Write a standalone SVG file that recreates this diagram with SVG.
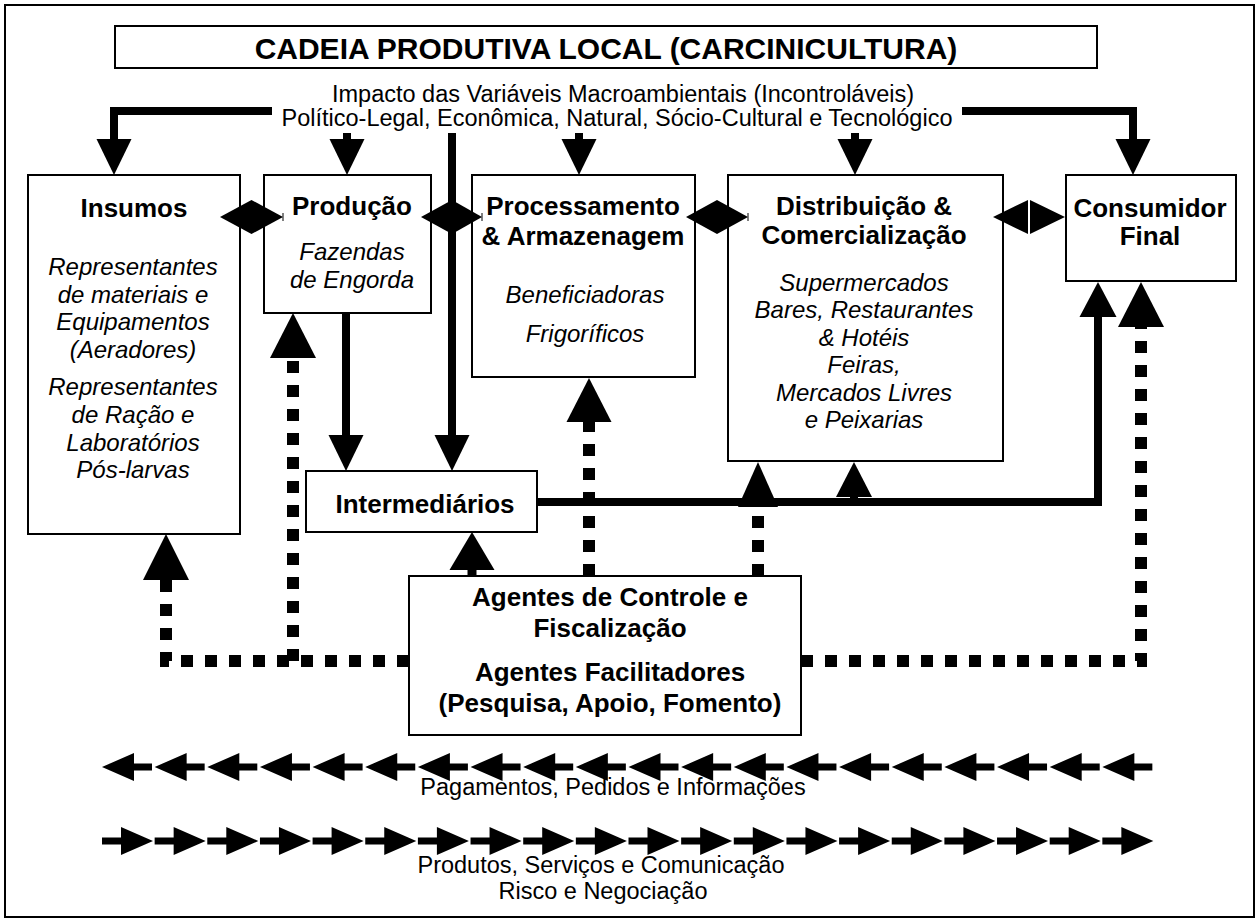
<svg xmlns="http://www.w3.org/2000/svg" width="1260" height="923" viewBox="0 0 1260 923">
<style>
.box{fill:#fff;stroke:#000;stroke-width:2}
.b{font-family:"Liberation Sans",Arial,sans-serif;font-weight:bold;font-size:26px;text-anchor:middle;fill:#000}
.i{font-family:"Liberation Sans",Arial,sans-serif;font-style:italic;font-size:24px;text-anchor:middle;fill:#000}
.r{font-family:"Liberation Sans",Arial,sans-serif;font-size:23.5px;text-anchor:middle;fill:#000}
.t{font-family:"Liberation Sans",Arial,sans-serif;font-weight:bold;font-size:30px;text-anchor:middle;fill:#000}
.thick{fill:none;stroke:#000;stroke-width:8}
.dot{fill:none;stroke:#000;stroke-width:12;stroke-dasharray:12 12}
.ah{fill:#000}
.tick{stroke:#000;stroke-width:1}
</style>
<defs>
<path id="la" d="M0 0 L32 -14 V-3.5 H50 V3.5 H32 V14 Z"/>
<path id="ra" d="M0 -3.5 H19 V-14 L51 0 L19 14 V3.5 H0 Z"/>
</defs>
<rect x="5" y="5" width="1249" height="912" fill="#fff" stroke="#000" stroke-width="2"/>

<g id="title">
<rect class="box" x="115" y="26" width="982" height="42"/>
<text class="t" x="606" y="59">CADEIA PRODUTIVA LOCAL (CARCINICULTURA)</text>
</g>
<g id="macro">
<text class="r" x="623" y="102">Impacto das Variáveis Macroambientais (Incontroláveis)</text>
<text class="r" x="617" y="126">Político-Legal, Econômica, Natural, Sócio-Cultural e Tecnológico</text>
</g>

<g id="insumos">
<rect class="box" x="28" y="175" width="212" height="359"/>
<text class="b" x="134" y="217">Insumos</text>
<text class="i" x="133" y="275">Representantes</text>
<text class="i" x="133" y="303">de materiais e</text>
<text class="i" x="133" y="330">Equipamentos</text>
<text class="i" x="133" y="358">(Aeradores)</text>
<text class="i" x="133" y="395">Representantes</text>
<text class="i" x="133" y="423">de Ração e</text>
<text class="i" x="133" y="451">Laboratórios</text>
<text class="i" x="133" y="478">Pós-larvas</text>
</g>

<g id="producao">
<rect class="box" x="264" y="175" width="167" height="138"/>
<text class="b" x="352" y="215">Produção</text>
<text class="i" x="352" y="260">Fazendas</text>
<text class="i" x="352" y="288">de Engorda</text>
</g>

<g id="processamento">
<rect class="box" x="472" y="175" width="223" height="202"/>
<text class="b" x="583" y="215">Processamento</text>
<text class="b" x="583" y="245">&amp; Armazenagem</text>
<text class="i" x="585" y="303">Beneficiadoras</text>
<text class="i" x="585" y="342">Frigoríficos</text>
</g>

<g id="distribuicao">
<rect class="box" x="728" y="175" width="275" height="286"/>
<text class="b" x="864" y="215">Distribuição &amp;</text>
<text class="b" x="864" y="244">Comercialização</text>
<text class="i" x="864" y="291">Supermercados</text>
<text class="i" x="864" y="318">Bares, Restaurantes</text>
<text class="i" x="864" y="346">&amp; Hotéis</text>
<text class="i" x="864" y="373">Feiras,</text>
<text class="i" x="864" y="401">Mercados Livres</text>
<text class="i" x="864" y="428">e Peixarias</text>
</g>

<g id="consumidor">
<rect class="box" x="1066" y="175" width="170" height="106"/>
<text class="b" x="1150" y="217">Consumidor</text>
<text class="b" x="1150" y="245">Final</text>
</g>

<g id="intermediarios">
<rect class="box" x="306" y="471" width="231" height="61"/>
<text class="b" x="425" y="513">Intermediários</text>
</g>

<g id="agentes">
<rect class="box" x="409" y="576" width="392" height="159"/>
<text class="b" x="610" y="606">Agentes de Controle e</text>
<text class="b" x="610" y="637">Fiscalização</text>
<text class="b" x="610" y="681">Agentes Facilitadores</text>
<text class="b" x="610" y="712">(Pesquisa, Apoio, Fomento)</text>
</g>

<g id="connectors">
<!-- top macro-environment arrows -->
<path class="thick" d="M272 111 H114 V140"/>
<polygon class="ah" points="96.5,139 131.5,139 114,175"/>
<path class="thick" d="M347 133 V140"/>
<polygon class="ah" points="329.5,139 364.5,139 347,175"/>
<path class="thick" d="M452 133 V436"/>
<polygon class="ah" points="434.5,435 469.5,435 452,471"/>
<path class="thick" d="M579 133 V140"/>
<polygon class="ah" points="561.5,139 596.5,139 579,175"/>
<path class="thick" d="M855 133 V140"/>
<polygon class="ah" points="837.5,139 872.5,139 855,175"/>
<path class="thick" d="M962 111 H1133 V140"/>
<polygon class="ah" points="1115.5,139 1150.5,139 1133,175"/>

<!-- double arrows between stages -->
<polygon class="ah" points="220,217 251.5,200 283,217 251.5,234"/>
<line class="tick" x1="283" y1="213" x2="283" y2="221"/>
<polygon class="ah" points="421,217 452,200 482,217 452,234"/>
<line class="tick" x1="482" y1="213" x2="482" y2="221"/>
<polygon class="ah" points="686,217 717,200 748,217 717,234"/>
<line class="tick" x1="748" y1="213" x2="748" y2="221"/>
<polygon class="ah" points="993,217 1028,200 1028,234"/>
<polygon class="ah" points="1030,200 1065,217 1030,234"/>

<!-- production to intermediaries -->
<path class="thick" d="M346 313 V436"/>
<polygon class="ah" points="328.5,435 363.5,435 346,471"/>

<!-- intermediaries flow -->
<path class="thick" d="M537 502 H1098 V316"/>
<polygon class="ah" points="1079.5,317 1116.5,317 1098,282"/>
<path class="thick" d="M854 502 V496"/>
<polygon class="ah" points="836,497 872,497 854,462"/>

<!-- agentes solid arrow to intermediarios -->
<path d="M472 577 V568" stroke="#000" stroke-width="9"/>
<polygon class="ah" points="449.5,570 494.5,570 472,532"/>

<!-- dotted support lines -->
<path class="dot" d="M166 580 V661 H409"/>
<path class="dot" d="M801 661 H1141 V327"/>
<path class="dot" d="M293 661 V358"/>
<path class="dot" d="M589 576 V422"/>
<path class="dot" d="M758 576 V507"/>
<polygon class="ah" points="143,580 189,580 166,534"/>
<polygon class="ah" points="270,358 316,358 293,313"/>
<polygon class="ah" points="566.5,422 611.5,422 589,378"/>
<polygon class="ah" points="738,507 778,507 758,462"/>
<polygon class="ah" points="1118,327 1164,327 1141,282"/>
</g>

<g id="legend">
<use href="#la" x="102" y="767"/><use href="#la" x="154.65" y="767"/><use href="#la" x="207.3" y="767"/><use href="#la" x="259.95" y="767"/><use href="#la" x="312.6" y="767"/>
<use href="#la" x="365.25" y="767"/><use href="#la" x="417.9" y="767"/><use href="#la" x="470.55" y="767"/><use href="#la" x="523.2" y="767"/><use href="#la" x="575.85" y="767"/>
<use href="#la" x="628.5" y="767"/><use href="#la" x="681.15" y="767"/><use href="#la" x="733.8" y="767"/><use href="#la" x="786.45" y="767"/><use href="#la" x="839.1" y="767"/>
<use href="#la" x="891.75" y="767"/><use href="#la" x="944.4" y="767"/><use href="#la" x="997.05" y="767"/><use href="#la" x="1049.7" y="767"/><use href="#la" x="1102.35" y="767"/>
<text class="r" x="613" y="795">Pagamentos, Pedidos e Informações</text>
<use href="#ra" x="102" y="841"/><use href="#ra" x="154.65" y="841"/><use href="#ra" x="207.3" y="841"/><use href="#ra" x="259.95" y="841"/><use href="#ra" x="312.6" y="841"/>
<use href="#ra" x="365.25" y="841"/><use href="#ra" x="417.9" y="841"/><use href="#ra" x="470.55" y="841"/><use href="#ra" x="523.2" y="841"/><use href="#ra" x="575.85" y="841"/>
<use href="#ra" x="628.5" y="841"/><use href="#ra" x="681.15" y="841"/><use href="#ra" x="733.8" y="841"/><use href="#ra" x="786.45" y="841"/><use href="#ra" x="839.1" y="841"/>
<use href="#ra" x="891.75" y="841"/><use href="#ra" x="944.4" y="841"/><use href="#ra" x="997.05" y="841"/><use href="#ra" x="1049.7" y="841"/><use href="#ra" x="1102.35" y="841"/>
<text class="r" x="601" y="873">Produtos, Serviços e Comunicação</text>
<text class="r" x="603" y="899">Risco e Negociação</text>
</g>
</svg>
